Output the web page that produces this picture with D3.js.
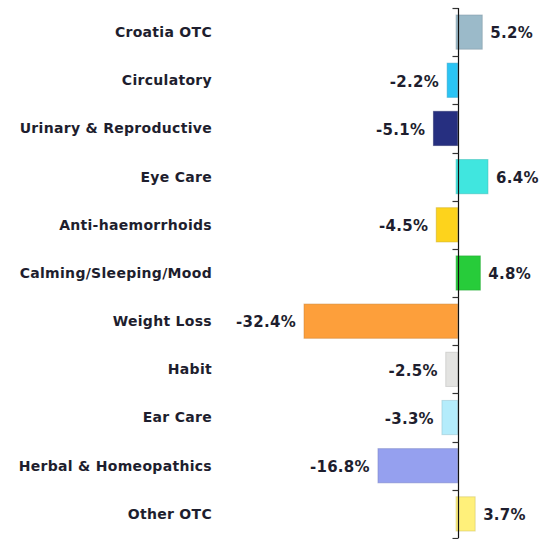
<!DOCTYPE html>
<html>
<head>
<meta charset="utf-8">
<script src="https://cdn.jsdelivr.net/npm/d3@7"></script>
<style>
  body { margin: 0; background: #fff; }
  text { font-family: "DejaVu Sans", Verdana, sans-serif; font-weight: bold; fill: #1e1e2e; }
  .cat { font-size: 14px; letter-spacing: 0.3px; }
  .val { font-size: 15px; letter-spacing: 0.3px; }
</style>
</head>
<body>
<div class="chart"></div>
<script>
var categories = ["Croatia OTC", "Circulatory", "Urinary & Reproductive", "Eye Care",
  "Anti-haemorrhoids", "Calming/Sleeping/Mood", "Weight Loss", "Habit", "Ear Care",
  "Herbal & Homeopathics", "Other OTC"];
var values = [5.2, -2.2, -5.1, 6.4, -4.5, 4.8, -32.4, -2.5, -3.3, -16.8, 3.7];
var labels = ["5.2%", "-2.2%", "-5.1%", "6.4%", "-4.5%", "4.8%", "-32.4%", "-2.5%", "-3.3%", "-16.8%", "3.7%"];
var colors = ["#9bbac9", "#2bc4f4", "#262f80", "#40e6df", "#fdd31c", "#27cc3a",
  "#fd9f3b", "#e3e3e1", "#b4ecfb", "#95a0ef", "#fff07a"];

var data = categories.map(function(c, i) {
  return { cat: c, v: values[i], label: labels[i], color: colors[i] };
});

var width = 539, height = 539;

var svg = d3.select(".chart").append("svg")
    .attr("width", width)
    .attr("height", height);

var x = d3.scaleLinear()
    .domain([-35, 10])
    .range([291.7, 505]);

// rows: one per category, ticks sit on row edges
var rows = d3.scaleBand()
    .domain(categories)
    .range([8, 538])
    .padding(0);

var y = rows.copy()
    .paddingInner(0.29)
    .paddingOuter(0.145);

svg.selectAll('.bar')
    .data(data)
  .enter().append('rect')
    .attr('class', 'bar')
    .attr('x', function(d){ return d.v < 0 ? x(d.v) : x(0) - 1.5; })
    .attr('y', function(d){ return y(d.cat); })
    .attr('width', function(d){ return Math.abs(x(d.v) - x(0)) + (d.v < 0 ? 0 : 1.5); })
    .attr('height', y.bandwidth())
    .attr('fill', function(d){ return d.color; })
    .attr('stroke', function(d){ return d3.color(d.color).darker(0.6); })
    .attr('stroke-opacity', 0.5)
    .attr('stroke-width', 1);

// axis line + ticks
var x0 = Math.round(x(0)) + 0.5;
svg.append('line')
    .attr('x1', x0).attr('x2', x0)
    .attr('y1', rows.range()[0]).attr('y2', rows.range()[1])
    .attr('stroke', '#111').attr('stroke-width', 1.2);

var tickYs = categories.map(function(c){ return rows(c); }).concat([rows.range()[1]]);
svg.selectAll('.tick')
    .data(tickYs)
  .enter().append('line')
    .attr('class', 'tick')
    .attr('x1', x0 - 6).attr('x2', x0)
    .attr('y1', function(d){ return Math.round(d) + 0.5; })
    .attr('y2', function(d){ return Math.round(d) + 0.5; })
    .attr('stroke', '#333').attr('stroke-width', 1.2);

// category labels
svg.selectAll('.cat')
    .data(data)
  .enter().append('text')
    .attr('class', 'cat')
    .attr('x', 212)
    .attr('y', function(d){ return rows(d.cat) + rows.bandwidth() / 2; })
    .attr('dy', '0.35em')
    .style('text-anchor', 'end')
    .text(function(d){ return d.cat; });

// value labels
svg.selectAll('.val')
    .data(data)
  .enter().append('text')
    .attr('class', 'val')
    .attr('x', function(d){ return d.v < 0 ? x(d.v) - 8 : x(d.v) + 8; })
    .attr('y', function(d){ return rows(d.cat) + rows.bandwidth() / 2 + 1; })
    .attr('dy', '0.35em')
    .style('text-anchor', function(d){ return d.v < 0 ? 'end' : 'start'; })
    .text(function(d){ return d.label; });
</script>
</body>
</html>
